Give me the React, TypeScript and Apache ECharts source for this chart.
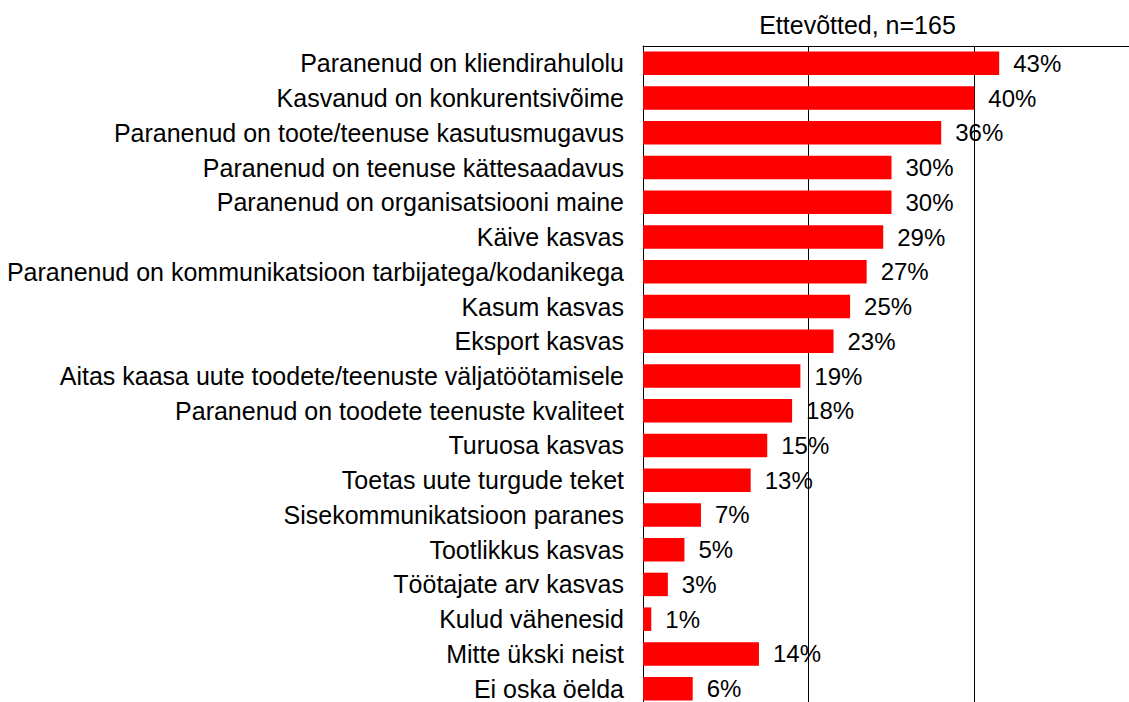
import React, { useEffect, useRef } from "react";
import * as echarts from "echarts";

const categories: string[] = [
  "Paranenud on kliendirahulolu",
  "Kasvanud on konkurentsivõime",
  "Paranenud on toote/teenuse kasutusmugavus",
  "Paranenud on teenuse kättesaadavus",
  "Paranenud on organisatsiooni maine",
  "Käive kasvas",
  "Paranenud on kommunikatsioon tarbijatega/kodanikega",
  "Kasum kasvas",
  "Eksport kasvas",
  "Aitas kaasa uute toodete/teenuste väljatöötamisele",
  "Paranenud on toodete teenuste kvaliteet",
  "Turuosa kasvas",
  "Toetas uute turgude teket",
  "Sisekommunikatsioon paranes",
  "Tootlikkus kasvas",
  "Töötajate arv kasvas",
  "Kulud vähenesid",
  "Mitte ükski neist",
  "Ei oska öelda",
];

const values: number[] = [43, 40, 36, 30, 30, 29, 27, 25, 23, 19, 18, 15, 13, 7, 5, 3, 1, 14, 6];

const titleText = "Ettevõtted, n=165";
const axisMin = 0;
const axisMax = 60;
const axisInterval = 20;

const FONT = "'Liberation Sans', Arial, sans-serif";

export default function App() {
  const ref = useRef<HTMLDivElement>(null);

  useEffect(() => {
    if (!ref.current) return;
    const chart = echarts.init(ref.current, undefined, { renderer: "svg" });
    chart.setOption({
      animation: false,
      backgroundColor: "#ffffff",
      textStyle: { fontFamily: FONT },
      graphic: [
        {
          type: "text",
          x: 857.5,
          y: 24.5,
          style: {
            text: titleText,
            fontSize: 25,
            fontFamily: FONT,
            fill: "#000000",
            textAlign: "center",
            textVerticalAlign: "middle",
          },
        },
      ],
      grid: {
        left: 643,
        right: 0,
        top: 46,
        bottom: 0,
        containLabel: false,
      },
      xAxis: {
        type: "value",
        position: "top",
        min: axisMin,
        max: axisMax,
        interval: axisInterval,
        axisLine: { show: true, lineStyle: { color: "#000000", width: 1 } },
        axisTick: { show: false },
        axisLabel: { show: false },
        splitLine: { show: true, lineStyle: { color: "#000000", width: 1 } },
      },
      yAxis: {
        type: "category",
        inverse: true,
        data: categories,
        axisLine: { show: true, lineStyle: { color: "#000000", width: 1 } },
        axisTick: { show: false },
        axisLabel: {
          color: "#000000",
          fontSize: 25,
          fontFamily: FONT,
          margin: 19,
        },
      },
      series: [
        {
          type: "bar",
          data: values,
          barWidth: 23.5,
          itemStyle: { color: "#FF0000" },
          label: {
            show: true,
            position: "right",
            distance: 14,
            formatter: "{c}%",
            color: "#000000",
            fontSize: 24,
            fontFamily: FONT,
          },
        },
      ],
    });
    return () => chart.dispose();
  }, []);

  return (
    <div
      style={{
        position: "absolute",
        left: 0,
        top: 0,
        width: 1129,
        height: 702,
        overflow: "hidden",
        background: "#ffffff",
      }}
    >
      <div ref={ref} style={{ width: 1140, height: 706 }} />
    </div>
  );
}
